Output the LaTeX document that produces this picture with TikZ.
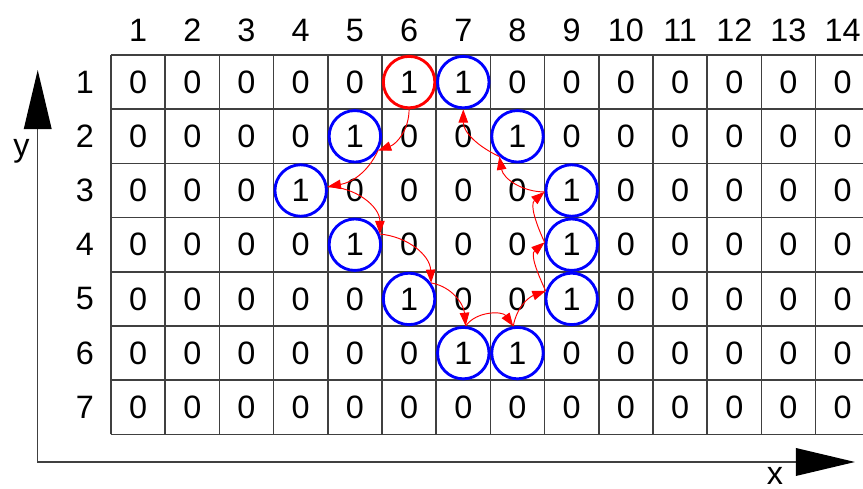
\documentclass[tikz,border=0pt]{standalone}
\usepackage{fontspec}
\setmainfont{Liberation Sans}
\usetikzlibrary{arrows.meta}

\begin{document}
\begin{tikzpicture}[x=1cm,y=1cm,
  cell/.style={font=\fontsize{17}{20}\selectfont},
  ring/.style={circle,draw=blue,line width=1.5pt,minimum size=0.95cm,inner sep=0pt},
  seed/.style={ring,draw=red},
  trace/.style={red,line width=0.5pt,-{Triangle[length=7pt,width=5pt]}},
  axisline/.style={black!75,line width=0.7pt,{Triangle[length=31pt,width=14.5pt,black]}-{Triangle[length=31pt,width=14.5pt,black]}}]
\useasboundingbox (-2.048,-8.007) rectangle (13.875,1.015);
\clip (-2.048,-8.007) rectangle (13.875,1.015);
\draw[black!75,line width=0.8pt] (0,-7) grid (14,0);
\foreach \c in {1,...,14} \node[cell] (h\c) at (\c-0.5,0.46) {\c};
\foreach \r in {1,...,7} \node[cell] (r\r) at (-0.48,0.5-\r) {\r};
% image values
\foreach \r/\vals in {1/{0,0,0,0,0,1,1,0,0,0,0,0,0,0},2/{0,0,0,0,1,0,0,1,0,0,0,0,0,0},
  3/{0,0,0,1,0,0,0,0,1,0,0,0,0,0},4/{0,0,0,0,1,0,0,0,1,0,0,0,0,0},
  5/{0,0,0,0,0,1,0,0,1,0,0,0,0,0},6/{0,0,0,0,0,0,1,1,0,0,0,0,0,0},
  7/{0,0,0,0,0,0,0,0,0,0,0,0,0,0}}
  \foreach \v [count=\c] in \vals \node[cell] at (\c-0.5,0.5-\r) {\v};
% boundary pixels
\node[seed] (p61) at (5.5,-0.5) {};
\foreach \c/\r in {7/1,5/2,8/2,4/3,9/3,5/4,9/4,6/5,9/5,7/6,8/6}
  \node[ring] (p\c\r) at (\c-0.5,0.5-\r) {};
% tracing order
\draw[trace] (p61.south) to[out=-90,in=20] (p52.-32);
\draw[trace] (p52.-32) to[out=-115,in=10] (p43.8);
\draw[trace] (p43.8) to[out=0,in=90] (p54.23);
\draw[trace] (p54.23) to[out=-5,in=92] (p65.36);
\draw[trace] (p65.36) to[out=-10,in=95] (p76.85);
\draw[trace] (p76.85) to[out=55,in=125] (p86.99);
\draw[trace] (p86.99) to[out=80,in=-160] (p95.163);
\draw[trace] (p95.163) to[out=115,in=-140] (p94.175);
\draw[trace] (p94.175) to[out=115,in=-140] (p93.183);
\draw[trace] (p93.183) to[out=180,in=-80] (p82.-132);
\draw[trace] (p82.-132) to[out=155,in=-90] (p71.south);
% axes
\coordinate (ytip) at (-1.352,-0.277);
\coordinate (xtip) at (13.727,-7.509);
\draw[axisline] (ytip) |- (xtip);
\node[cell] (ylab) at (-1.65,-1.77) {y};
\node[cell] (xlab) at (12.25,-7.77) {x};
\end{tikzpicture}
\end{document}
